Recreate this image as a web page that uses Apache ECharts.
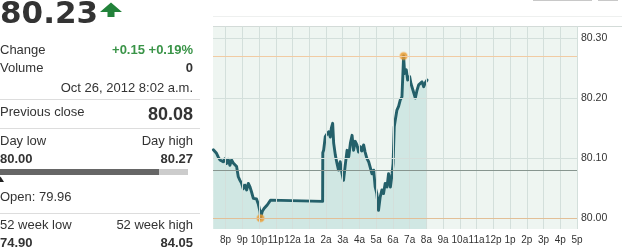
<!DOCTYPE html>
<html><head><meta charset="utf-8">
<script src="https://cdn.jsdelivr.net/npm/echarts@6/dist/echarts.min.js"></script>
<style>html,body{margin:0;padding:0;background:#fff}#c{width:622px;height:252px}</style>
</head><body><div id="c"></div>
<script>
// hours after 8:00 p.m. (Oct 25) for each trade
const times = [-0.73,-0.54,-0.44,-0.33,-0.22,-0.14,-0.04,0.06,0.16,0.26,
 0.36,0.46,0.56,0.66,0.76,0.86,0.96,1.06,1.16,1.26,
 1.36,1.46,1.55,1.66,1.76,1.85,1.95,2.06,2.09,2.19,
 2.30,2.39,2.49,2.59,2.69,2.75,5.80,5.81,5.86,5.96,
 6.06,6.16,6.26,6.32,6.40,6.46,6.56,6.66,6.75,6.85,
 6.96,7.05,7.15,7.26,7.36,7.46,7.56,7.65,7.75,7.85,
 7.95,8.05,8.15,8.25,8.34,8.44,8.55,8.65,8.75,8.85,
 8.94,9.04,9.14,9.24,9.34,9.44,9.54,9.65,9.74,9.85,
 9.95,10.01,10.08,10.14,10.24,10.34,10.44,10.54,10.64,10.70,
 10.80,10.88,11.00,11.08,11.20,11.34,11.44,11.54,11.64,11.74,
 11.84,11.94,12.04];
const prices = [80.114,80.108,80.102,80.097,80.099,80.094,80.099,80.091,80.098,80.088,
 80.097,80.092,80.089,80.086,80.069,80.063,80.058,80.049,80.055,80.047,
 80.058,80.052,80.044,80.033,80.030,80.032,80.024,80.011,80.000,80.011,
 80.016,80.013,80.022,80.020,80.030,80.028,80.028,80.109,80.113,80.136,
 80.140,80.144,80.135,80.150,80.158,80.125,80.105,80.091,80.080,80.094,
 80.074,80.063,80.088,80.113,80.102,80.125,80.138,80.113,80.128,80.122,
 80.110,80.119,80.112,80.122,80.110,80.100,80.094,80.091,80.074,80.080,
 80.052,80.041,80.013,80.035,80.047,80.041,80.058,80.052,80.074,80.052,
 80.074,80.091,80.152,80.163,80.180,80.186,80.197,80.202,80.270,80.241,
 80.247,80.230,80.236,80.224,80.213,80.200,80.213,80.222,80.220,80.227,
 80.219,80.226,80.230];
const hourLabels = ['8p','9p','10p','11p','12a','1a','2a','3a','4a','5a','6a','7a','8a','9a','10a','11a','12p','1p','2p','3p','4p','5p'];
const priceTicks = [80.00, 80.10, 80.20, 80.30];
const dayLow = [2.09, 80.00];
const dayHigh = [10.64, 80.27];
const previousClose = 80.08;

const hourValues = hourLabels.map((_, i) => i);
const lineData = times.map((t, i) => [t, prices[i]]);

const FONT = '"Liberation Sans", Arial, sans-serif';
const chart = echarts.init(document.getElementById('c'), null, {renderer: 'canvas'});

function txt(text, x, y, opt) {
  opt = opt || {};
  return {type: 'text', silent: true, style: {
    text: text, x: x, y: y,
    fontSize: opt.size || 13, fontWeight: opt.bold ? 'bold' : 'normal',
    fontFamily: opt.family || FONT, fill: opt.color || '#333',
    align: opt.align || 'left', verticalAlign: 'middle'
  }};
}
function hline(x1, x2, y, color) {
  return {type: 'line', silent: true, shape: {x1: x1, y1: y, x2: x2, y2: y}, style: {stroke: color, lineWidth: 1}};
}

const gridMarks = [];
hourValues.forEach(h => gridMarks.push({xAxis: h, lineStyle: {color: '#d3dfdb', width: 1, type: 'solid'}}));
[80.10, 80.20, 80.30].forEach(v => gridMarks.push({yAxis: v, lineStyle: {color: '#d3dfdb', width: 1, type: 'solid'}}));
gridMarks.push({yAxis: dayHigh[1], lineStyle: {color: '#f1cba3', width: 1, type: 'solid'}});
gridMarks.push({yAxis: dayLow[1], lineStyle: {color: '#e2bf97', width: 1, type: 'solid'}});
gridMarks.push({yAxis: previousClose, lineStyle: {color: '#87958f', width: 1, type: 'solid'}});

const R = 193;
chart.setOption({
  animation: false,
  grid: {left: 213, right: 45, top: 26, bottom: 23, show: true, backgroundColor: '#eef5f1', borderWidth: 0},
  xAxis: {
    type: 'value', min: -0.75, max: 21,
    axisLine: {show: false}, axisTick: {show: false}, splitLine: {show: false},
    axisLabel: {customValues: hourValues, formatter: v => hourLabels[Math.round(v)] || '',
      fontSize: 10, color: '#333', fontFamily: FONT, margin: 6, hideOverlap: false}
  },
  yAxis: {
    type: 'value', position: 'right', min: 79.982, max: 80.32, scale: true,
    axisLine: {show: false}, axisTick: {show: false}, splitLine: {show: false},
    axisLabel: {customValues: priceTicks, formatter: v => v.toFixed(2),
      fontSize: 10.5, color: '#333', fontFamily: FONT, margin: 4}
  },
  series: [
    {type: 'line', z: 1, data: [[0, 80.1]], symbol: 'none', lineStyle: {width: 0, opacity: 0}, silent: true,
     markLine: {silent: true, symbol: 'none', label: {show: false}, animation: false, data: gridMarks}},
    {type: 'line', z: 2, data: lineData, showSymbol: false, symbol: 'none',
     lineStyle: {color: '#24606a', width: 2.9, join: 'round', cap: 'round'},
     areaStyle: {origin: 'start', color: 'rgba(135,198,194,0.42)'}},
    {type: 'scatter', z: 3, data: [dayLow, dayHigh], symbolSize: 7,
     itemStyle: {color: '#e8982c', borderColor: 'rgba(240,170,70,0.45)', borderWidth: 2}}
  ],
  graphic: [
    hline(213, 622, 16.5, '#eef0ef'),
    hline(213, 622, 26.5, '#d3dbd8'),
    hline(533, 592, 0.5, '#c8c8c8'),
    hline(598, 618, 0.5, '#c8c8c8'),
    txt('80.23', 0, 14.5, {size: 31, bold: true, family: '"DejaVu Sans", Verdana, sans-serif', color: '#333'}),
    {type: 'polygon', silent: true, shape: {points: [[100,12],[111,2.5],[122,12],[114.5,12],[114.5,17],[107.5,17],[107.5,12]]}, style: {fill: '#22823a'}},
    txt('Change', 0, 50),
    txt('+0.15 +0.19%', R, 50, {bold: true, align: 'right', color: '#3a9448'}),
    txt('Volume', 0, 68.5),
    txt('0', R, 68.5, {bold: true, align: 'right'}),
    txt('Oct 26, 2012 8:02 a.m.', R, 88.5, {align: 'right'}),
    hline(0, 200, 99.5, '#dddddd'),
    txt('Previous close', 0, 112.5),
    txt('80.08', R, 115, {size: 18, bold: true, align: 'right'}),
    hline(0, 200, 128.5, '#dddddd'),
    txt('Day low', 0, 141),
    txt('Day high', R, 141, {align: 'right'}),
    txt('80.00', 0, 159.5, {bold: true}),
    txt('80.27', R, 159.5, {bold: true, align: 'right'}),
    {type: 'rect', silent: true, shape: {x: 0, y: 169, width: 188, height: 6}, style: {fill: '#cccccc'}},
    {type: 'rect', silent: true, shape: {x: 0, y: 169, width: 159, height: 6}, style: {fill: '#666666'}},
    {type: 'polygon', silent: true, shape: {points: [[-3,182],[0.5,176.5],[4,182]]}, style: {fill: '#222'}},
    txt('Open: 79.96', 0, 197.5),
    hline(0, 200, 213.5, '#dddddd'),
    txt('52 week low', 0, 225.5),
    txt('52 week high', R, 225.5, {align: 'right'}),
    txt('74.90', 0, 243.5, {bold: true}),
    txt('84.05', R, 243.5, {bold: true, align: 'right'})
  ]
});
</script>
</body></html>
